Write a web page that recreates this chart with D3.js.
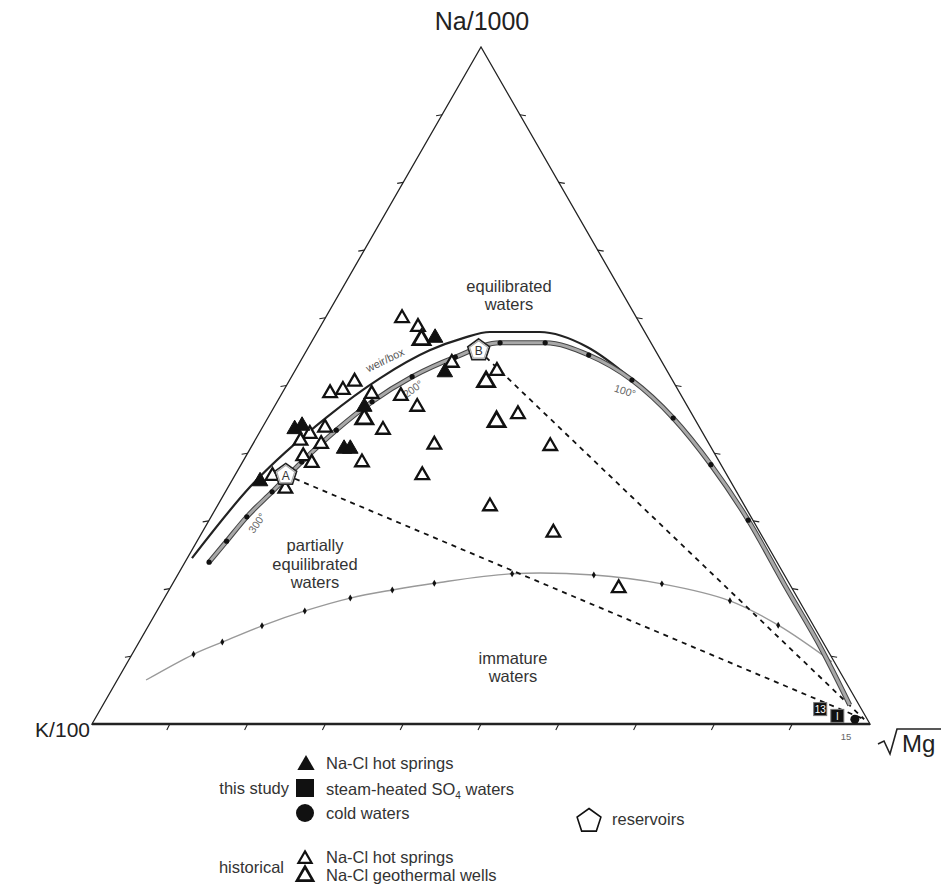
<!DOCTYPE html>
<html>
<head>
<meta charset="utf-8">
<script src="https://cdn.jsdelivr.net/npm/d3@7"></script>
<style>
  body { margin: 0; background: #fff; }
  svg { display: block; }
  text { font-family: "Liberation Sans", Arial, Helvetica, sans-serif; }
</style>
</head>
<body>
<svg id="chart" width="942" height="886"></svg>
<script>
// Giggenbach Na–K–Mg ternary diagram. Every composition is [Na/1000, K/100, √Mg] in percent.

// Full equilibrium curve (340° → 0°), one node per 20 °C
const equilibriumCurve = [
  [23.9, 73.0, 3.1], [27.0, 69.2, 3.8], [30.6, 64.8, 4.6], [34.3, 59.7, 6.0],
  [38.7, 53.7, 7.6], [43.4, 46.9, 9.7], [47.6, 40.2, 12.2], [51.3, 33.2, 15.5],
  [54.2, 26.2, 19.6], [56.3, 19.4, 24.3], [56.3, 13.6, 30.1], [54.5, 8.9, 36.6],
  [50.8, 5.2, 44.0], [45.2, 2.7, 52.1], [38.3, 1.3, 60.4], [30.1, 0.6, 69.3],
  [20.5, 0.7, 78.8], [10.9, 0.7, 88.4], [2.8, 1.2, 96.0]
];
// Nodes shown as dots on the equilibrium curve
const equilibriumDots = equilibriumCurve.slice(0, 16);

// Weir/box equilibrium line
const weirBoxCurve = [
  [24.5, 74.9, 0.6], [35.0, 62.2, 2.8], [45.3, 47.2, 7.5], [51.1, 37.4, 11.5],
  [55.2, 29.0, 15.8], [57.0, 23.8, 19.2], [57.9, 19.9, 22.2], [57.9, 13.5, 28.6],
  [55.7, 8.5, 35.8], [51.0, 5.2, 43.8], [45.2, 2.7, 52.1], [38.3, 1.3, 60.4],
  [30.1, 0.6, 69.3], [20.5, 0.7, 78.8], [10.9, 0.7, 88.4], [2.8, 1.2, 96.0]
];

// Partial equilibrium (immature waters) boundary
const immatureCurve = [
  [6.5, 89.8, 3.7], [10.3, 81.8, 7.9], [12.1, 77.2, 10.7], [14.5, 70.9, 14.6],
  [16.7, 64.3, 19.0], [18.6, 57.5, 23.9], [19.8, 51.5, 28.7], [20.8, 45.6, 33.6],
  [22.2, 34.9, 42.9], [22.0, 24.5, 53.5], [20.7, 16.4, 62.9], [18.2, 8.9, 72.9],
  [14.6, 4.5, 80.9], [9.2, 0.3, 90.5]
];
const immatureDots = immatureCurve.slice(1, 13);

// Temperature labels on the equilibrium curve
const isothermLabels = ["300°", "200°", "100°"];

// This study
const studyHotSprings = [
  [57.2, 27.3, 15.5], [52.1, 28.6, 19.3], [47.0, 41.5, 11.5], [40.8, 47.2, 12.0],
  [40.8, 46.4, 12.8], [43.7, 52.1, 4.2], [44.2, 50.9, 4.9], [36.0, 60.4, 3.6]
];
const studySteamHeated = [[2.2, 5.3, 92.5], [1.2, 3.6, 95.2]];
const steamHeatedIds = ["13", "I"];
const studyColdWaters = [[0.7, 1.6, 97.7]];

// Historical data
const histHotSprings = [
  [60.1, 30.1, 9.8], [58.8, 28.7, 12.5], [49.0, 44.9, 6.1], [49.5, 43.0, 7.5],
  [50.7, 40.9, 8.4], [48.9, 39.6, 11.5], [48.6, 36.0, 15.4], [47.0, 34.7, 18.3],
  [43.6, 40.8, 15.6], [41.4, 35.3, 23.3], [36.9, 39.1, 24.0], [38.8, 45.9, 15.3],
  [52.3, 21.8, 25.9], [45.9, 22.3, 31.8], [41.2, 20.5, 38.3], [32.3, 32.7, 35.0],
  [28.4, 26.5, 45.1], [20.2, 22.2, 57.6], [43.0, 50.5, 6.5], [43.9, 48.1, 8.0],
  [41.5, 49.8, 8.7], [39.7, 53.0, 7.3], [38.7, 52.4, 8.9], [36.8, 58.4, 4.8],
  [34.9, 57.7, 7.4], [42.0, 52.2, 5.8], [53.5, 27.0, 19.5]
];
const histWells = [
  [56.9, 29.2, 13.9], [50.7, 24.0, 25.3], [44.8, 25.6, 29.6], [45.2, 42.4, 12.4]
];

// Reservoir compositions and the mixing lines toward the Mg-rich end member
const reservoirs = [[36.8, 56.7, 6.5], [55.2, 22.7, 22.1]];
const reservoirNames = ["A", "B"];
const mixingEnd = [0.7, 0.4, 98.9];

const axisTicks = [10, 20, 30, 40, 50, 60, 70, 80, 90];

const svg = d3.select("#chart");

// Cartesian scales for the ternary plane
const xs = d3.scaleLinear().domain([0, 100]).range([92, 870]);
const ys = d3.scaleLinear().domain([0, 100]).range([724, 47]);
function pos(d) {
  const t = d[0] + d[1] + d[2];
  const na = d[0] / t * 100, mg = d[2] / t * 100;
  return [xs(mg + na / 2), ys(na)];
}
const line = d3.line().x(d => pos(d)[0]).y(d => pos(d)[1]);
const smooth = d3.line().x(d => pos(d)[0]).y(d => pos(d)[1]).curve(d3.curveMonotoneX);
const smoothCR = d3.line().x(d => pos(d)[0]).y(d => pos(d)[1]).curve(d3.curveCatmullRom.alpha(0.5));

// Triangle frame
const corners = [[0, 100, 0], [100, 0, 0], [0, 0, 100]];
svg.append("path")
  .attr("d", line(corners) + "Z")
  .attr("fill", "none").attr("stroke", "#222").attr("stroke-width", 1.3);
// heavier base
svg.append("path")
  .attr("d", line([[0, 100, 0], [0, 0, 100]]))
  .attr("stroke", "#222").attr("stroke-width", 2.4);

// Ticks every 10 %
const tickG = svg.append("g").attr("stroke", "#222").attr("stroke-width", 1.1);
axisTicks.forEach(v => {
  const l = pos([v, 100 - v, 0]);
  tickG.append("line").attr("x1", l[0]).attr("y1", l[1]).attr("x2", l[0] - 6).attr("y2", l[1] + 1);
  const r = pos([v, 0, 100 - v]);
  tickG.append("line").attr("x1", r[0]).attr("y1", r[1]).attr("x2", r[0] + 6).attr("y2", r[1] + 1);
  const b = pos([0, 100 - v, v]);
  tickG.append("line").attr("x1", b[0]).attr("y1", b[1]).attr("x2", b[0] - 3).attr("y2", b[1] + 6);
});

// Immature waters boundary
svg.append("path").attr("d", smoothCR(immatureCurve))
  .attr("fill", "none").attr("stroke", "#999").attr("stroke-width", 1.4);
svg.append("g").selectAll("path").data(immatureDots).join("path")
  .attr("transform", d => `translate(${pos(d)})`)
  .attr("d", d3.symbol(d3.symbolDiamond, 14))
  .attr("fill", "#111");

// Mixing lines
svg.append("g").selectAll("path").data(reservoirs).join("path")
  .attr("d", d => line([d, mixingEnd]))
  .attr("fill", "none").attr("stroke", "#111").attr("stroke-width", 1.8)
  .attr("stroke-dasharray", "5,5");

// Weir/box line
svg.append("path").attr("d", smooth(weirBoxCurve))
  .attr("fill", "none").attr("stroke", "#222").attr("stroke-width", 2.2);

// Full equilibrium curve
svg.append("path").attr("d", smooth(equilibriumCurve))
  .attr("fill", "none").attr("stroke", "#444").attr("stroke-width", 5);
svg.append("path").attr("d", smooth(equilibriumCurve))
  .attr("fill", "none").attr("stroke", "#a8a8a8").attr("stroke-width", 3);
svg.append("g").selectAll("circle").data(equilibriumDots).join("circle")
  .attr("cx", d => pos(d)[0]).attr("cy", d => pos(d)[1]).attr("r", 2.6).attr("fill", "#111");

// Curve labels
const smallLabel = (txt, p, rot, size, fill) => svg.append("text")
  .attr("transform", `translate(${p[0]},${p[1]}) rotate(${rot})`)
  .attr("text-anchor", "middle").attr("dy", "0.35em")
  .attr("font-size", size).attr("fill", fill).text(txt);
smallLabel("weir/box", [385, 360], -26, 11, "#555");
smallLabel(isothermLabels[0], [257, 523], -55, 10.5, "#666");
smallLabel(isothermLabels[1], [413, 389], -36, 10.5, "#666");
smallLabel(isothermLabels[2], [625, 391], 18, 10.5, "#666");

// Field labels
const block = (lines, x, y0, dy) => {
  const t = svg.append("text").attr("text-anchor", "middle").attr("font-size", 16.5).attr("fill", "#333");
  lines.forEach((s, i) => t.append("tspan").attr("x", x).attr("y", y0 + i * dy).text(s));
};
block(["equilibrated", "waters"], 509, 292, 18);
block(["partially", "equilibrated", "waters"], 315, 551, 18.5);
block(["immature", "waters"], 513, 664, 18);

// Markers
const tri = s => d3.symbol(d3.symbolTriangle, s)();
svg.append("g").selectAll("path").data(histHotSprings).join("path")
  .attr("transform", d => `translate(${pos(d)[0]},${pos(d)[1] + 1})`)
  .attr("d", tri(80)).attr("fill", "#fff").attr("stroke", "#111").attr("stroke-width", 2.3);
svg.append("g").selectAll("path").data(histWells).join("path")
  .attr("transform", d => `translate(${pos(d)[0]},${pos(d)[1] + 1})`)
  .attr("d", tri(125)).attr("fill", "#fff").attr("stroke", "#111").attr("stroke-width", 2.8);
svg.append("g").selectAll("path").data(studyHotSprings).join("path")
  .attr("transform", d => `translate(${pos(d)[0]},${pos(d)[1] + 1})`)
  .attr("d", tri(105)).attr("fill", "#111").attr("stroke", "#111").attr("stroke-width", 1);

// Steam-heated and cold waters near the Mg apex
const sq = svg.append("g").selectAll("g").data(studySteamHeated).join("g")
  .attr("transform", d => `translate(${pos(d)})`);
sq.append("rect").attr("x", -6.5).attr("y", -6.5).attr("width", 13).attr("height", 13)
  .attr("fill", "#111").attr("stroke", "#777").attr("stroke-width", 1);
sq.append("text").attr("text-anchor", "middle").attr("y", 4).attr("font-size", 10)
  .attr("fill", "#fff").text((d, i) => steamHeatedIds[i]);
svg.append("g").selectAll("circle").data(studyColdWaters).join("circle")
  .attr("cx", d => pos(d)[0]).attr("cy", d => pos(d)[1]).attr("r", 4.5).attr("fill", "#111");
svg.append("text").attr("x", 846).attr("y", 740).attr("text-anchor", "middle")
  .attr("font-size", 9.5).attr("fill", "#666").text("15");

// Reservoir pentagons
const pentagon = r => d3.range(5).map(i => {
  const a = -Math.PI / 2 + i * 2 * Math.PI / 5;
  return [r * Math.cos(a), r * Math.sin(a)];
});
const pentPath = r => "M" + pentagon(r).join("L") + "Z";
const res = svg.append("g").selectAll("g").data(reservoirs).join("g")
  .attr("transform", d => `translate(${pos(d)})`);
res.append("path").attr("d", pentPath(11.5)).attr("fill", "#fff")
  .attr("stroke", "#222").attr("stroke-width", 1.6);
res.append("path").attr("d", pentPath(9.5)).attr("fill", "none")
  .attr("stroke", "#aaa").attr("stroke-width", 1.2);
res.append("text").attr("text-anchor", "middle").attr("y", 5).attr("font-size", 12)
  .attr("fill", "#333").text((d, i) => reservoirNames[i]);

// Apex labels
svg.append("text").attr("x", 482).attr("y", 30).attr("text-anchor", "middle")
  .attr("font-size", 25).attr("fill", "#222").text("Na/1000");
svg.append("text").attr("x", 90).attr("y", 737).attr("text-anchor", "end")
  .attr("font-size", 21).attr("fill", "#222").text("K/100");
svg.append("path").attr("d", "M878,744 L884,741 L890,754 L897,729 L941,729")
  .attr("fill", "none").attr("stroke", "#222").attr("stroke-width", 1.6);
svg.append("text").attr("x", 902).attr("y", 752)
  .attr("font-size", 24).attr("fill", "#222").text("Mg");

// Legend
const lg = svg.append("g");
const lgText = (s, x, y, anchor) => lg.append("text").attr("x", x).attr("y", y)
  .attr("text-anchor", anchor || "start").attr("font-size", 16.5).attr("fill", "#333").text(s);
lg.append("path").attr("transform", "translate(306,765)").attr("d", tri(130)).attr("fill", "#111");
lgText("Na-Cl hot springs", 326, 769);
lgText("this study", 289, 794, "end");
lg.append("rect").attr("x", 296).attr("y", 779).attr("width", 18).attr("height", 18).attr("fill", "#111");
const so = lgText("steam-heated SO", 326, 795);
so.append("tspan").attr("font-size", 10).attr("dy", 4).text("4");
so.append("tspan").attr("dy", -4).text(" waters");
lg.append("circle").attr("cx", 305).attr("cy", 813).attr("r", 9).attr("fill", "#111");
lgText("cold waters", 326, 819);
lg.append("path").attr("d", pentPath(12.5)).attr("transform", "translate(589,821)")
  .attr("fill", "#fff").attr("stroke", "#111").attr("stroke-width", 1.6);
lgText("reservoirs", 612, 825);
lgText("historical", 284, 873, "end");
lg.append("path").attr("transform", "translate(305,859)").attr("d", tri(75))
  .attr("fill", "#fff").attr("stroke", "#111").attr("stroke-width", 2.2);
lg.append("path").attr("transform", "translate(305,876)").attr("d", tri(110))
  .attr("fill", "#fff").attr("stroke", "#111").attr("stroke-width", 2.7);
lgText("Na-Cl hot springs", 326, 863);
lgText("Na-Cl geothermal wells", 326, 881);
</script>
</body>
</html>
